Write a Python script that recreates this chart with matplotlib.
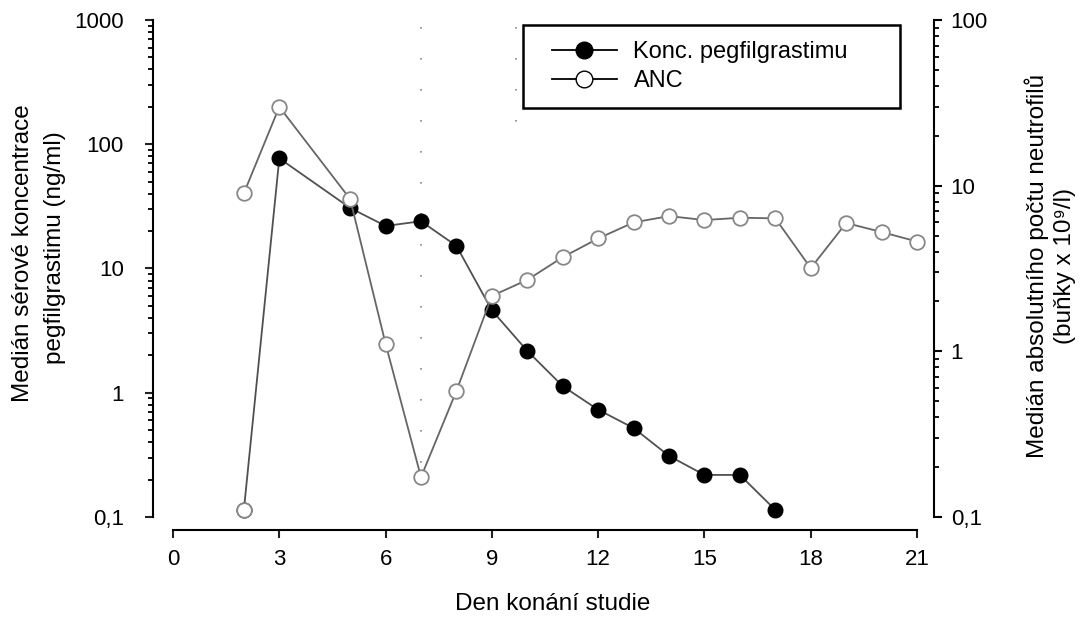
import matplotlib
matplotlib.use("Agg")
import matplotlib.pyplot as plt
from matplotlib.patches import Rectangle
from matplotlib.ticker import FixedLocator, LogLocator, NullFormatter

plt.rcParams['font.family'] = ['Liberation Sans', 'DejaVu Sans']

# pegfilgrastim median serum concentration (ng/ml), by study day
peg_days = [2, 3, 5, 6, 7, 8, 9, 10, 11, 12, 13, 14, 15, 16, 17]
peg_conc = [0.114, 77, 30.7, 22, 24, 15.2, 4.6, 2.17, 1.13, 0.73, 0.52, 0.31, 0.218, 0.218, 0.114]

# absolute neutrophil count (10^9/l), by study day
anc_days = [2, 3, 5, 6, 7, 8, 9, 10, 11, 12, 13, 14, 15, 16, 17, 18, 19, 20, 21]
anc_vals = [9.0, 29.9, 8.3, 1.11, 0.174, 0.577, 2.16, 2.7, 3.7, 4.8, 6.0, 6.55, 6.2, 6.4, 6.35,
            3.18, 5.95, 5.25, 4.6]

left_ticks = [0.1, 1, 10, 100, 1000]
left_labels = ['0,1', '1', '10', '100', '1000']
right_ticks = [0.1, 1, 10, 100]
right_labels = ['0,1', '1', '10', '100']
x_ticks = [0, 3, 6, 9, 12, 15, 18, 21]

fig = plt.figure(figsize=(10.8, 6.21), dpi=100)
ax = fig.add_axes([0.1602, 0.1675, 0.6889, 0.8003])
ax2 = ax.twinx()

# dotted reference lines
dots = (0, (1, 17.6))
ax.plot([7, 7], [880, 0.16], color='#888888', lw=1.2, ls=dots, zorder=1)
ax.plot([9.68, 9.68], [880, 150], color='#888888', lw=1.2, ls=dots, zorder=1)

ax.plot(peg_days, peg_conc, color='#505050', lw=1.3, marker='o', ms=10.5,
        mfc='black', mec='black', clip_on=False, zorder=3)
# first sample (day 2) drawn as open circle
ax.plot(peg_days[:1], peg_conc[:1], ls='none', marker='o', ms=10.5, mfc='white',
        mec='#888888', mew=1.3, clip_on=False, zorder=4)

ax2.plot(anc_days, anc_vals, color='#666666', lw=1.3, marker='o', ms=10.5,
         mfc='white', mec='#888888', mew=1.3, clip_on=False, zorder=3)

ax.set_yscale('log')
ax.set_ylim(0.1, 1000)
ax2.set_yscale('log')
ax2.set_ylim(0.1, 100)
ax.set_xlim(0, 21)

ax.set_xticks(x_ticks)
ax.set_xticklabels([str(t) for t in x_ticks])
ax.yaxis.set_major_locator(FixedLocator(left_ticks))
ax.set_yticklabels(left_labels)
ax.yaxis.set_minor_locator(LogLocator(base=10, subs=range(2, 10)))
ax.yaxis.set_minor_formatter(NullFormatter())
ax2.yaxis.set_major_locator(FixedLocator(right_ticks))
ax2.set_yticklabels(right_labels)
ax2.yaxis.set_minor_locator(LogLocator(base=10, subs=range(2, 10)))
ax2.yaxis.set_minor_formatter(NullFormatter())

for a in (ax, ax2):
    a.spines['top'].set_visible(False)
    a.patch.set_visible(False)
ax.spines['right'].set_visible(False)
ax2.spines['left'].set_visible(False)
ax2.spines['bottom'].set_visible(False)
ax.spines['left'].set_position(('outward', 14.4))
ax.spines['bottom'].set_position(('outward', 9.4))
ax2.spines['right'].set_position(('outward', 12.2))
for sp in (ax.spines['left'], ax.spines['bottom'], ax2.spines['right']):
    sp.set_linewidth(1.5)

ax.tick_params(axis='both', which='major', length=6, width=1.5, labelsize=16, color='#222222')
ax.tick_params(axis='y', which='major', pad=15)
ax.tick_params(axis='y', which='minor', length=3.6, width=1.3)
ax2.tick_params(axis='y', which='major', length=6, width=1.5, labelsize=16, pad=6)
ax2.tick_params(axis='y', which='minor', length=3.6, width=1.3)
ax.tick_params(axis='x', pad=8)

fig.text(553 / 1080, 1 - 604 / 621, 'Den konání studie', ha='center', va='center', fontsize=17.5)
fig.text(23 / 1080, 1 - 253 / 621, 'Medián sérové koncentrace', rotation=90,
         ha='center', va='center', fontsize=17.5)
fig.text(55 / 1080, 1 - 248 / 621, 'pegfilgrastimu (ng/ml)', rotation=90,
         ha='center', va='center', fontsize=17.5)
fig.text(1037 / 1080, 1 - 266 / 621, 'Medián absolutního počtu neutrofilů', rotation=90,
         ha='center', va='center', fontsize=17.5)
fig.text(1065 / 1080, 1 - 266 / 621, '(buňky x 10⁹/l)', rotation=90,
         ha='center', va='center', fontsize=17.5)

# legend box
box = Rectangle((523 / 1080, 1 - 108 / 621), 377 / 1080, 83 / 621, transform=fig.transFigure,
                facecolor='white', edgecolor='black', lw=1.8, zorder=5)
ax2.add_patch(box)
h1, = ax.plot([], [], color='black', lw=1.3, marker='o', ms=12, mfc='black', mec='black')
h2, = ax.plot([], [], color='black', lw=1.3, marker='o', ms=12, mfc='white', mec='black')
leg = ax2.legend([h1, h2], ['Konc. pegfilgrastimu', 'ANC'], loc='upper left',
                 bbox_to_anchor=(552 / 1080, 1 - 41 / 621), bbox_transform=fig.transFigure,
                 borderaxespad=0, borderpad=0, frameon=False, fontsize=17,
                 handlelength=2.75, handletextpad=0.7, labelspacing=0.3)
leg.set_zorder(6)

fig.savefig('out.png', dpi=100)
